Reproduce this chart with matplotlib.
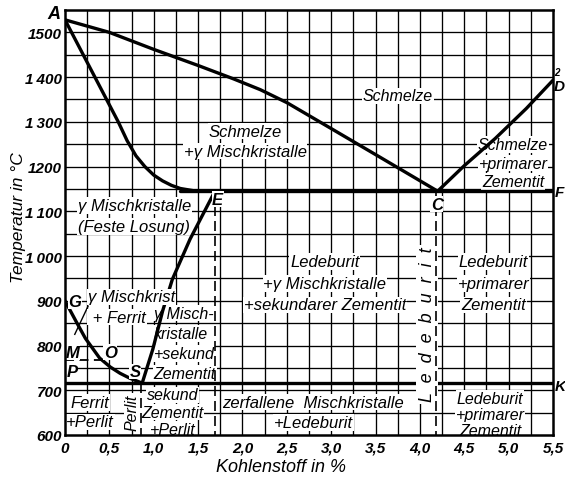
import matplotlib
matplotlib.use("Agg")
import matplotlib.pyplot as plt
import numpy as np

plt.rcParams['font.family'] = ['Liberation Sans', 'DejaVu Sans']
plt.rcParams['font.style'] = 'italic'

# ---- data (carbon %, temperature °C) ----
liquidus_AC_x = [0.0, 0.5, 1.0, 1.5, 1.9, 2.2, 2.5, 3.0, 3.55, 4.2]
liquidus_AC_t = [1528, 1500, 1462, 1426, 1396, 1372, 1343, 1285, 1221, 1145]
solidus_AE_x = [0.0, 0.2, 0.4, 0.6, 0.7, 0.8, 0.9, 1.0, 1.1, 1.2, 1.3, 1.45, 1.7]
solidus_AE_t = [1528, 1452, 1376, 1300, 1258, 1224, 1200, 1181, 1168, 1158, 1151, 1146, 1145]
liquidus_CD_x = [4.2, 4.5, 4.85, 5.2, 5.5]
liquidus_CD_t = [1145, 1202, 1263, 1330, 1393]
eutectic_x = [1.3, 5.5]
eutectic_t = [1145, 1145]
line_ES_x = [1.69, 1.41, 1.21, 1.10, 0.99, 0.87]
line_ES_t = [1145, 1038, 948, 877, 792, 716]
line_GS_x = [0.0, 0.13, 0.23, 0.39, 0.51, 0.62, 0.73, 0.87]
line_GS_t = [900, 852, 816, 772, 752, 738, 727, 716]
eutectoid_x = [0.0, 5.5]
eutectoid_t = [716, 716]
magnetic_x = [0.0, 0.48]
magnetic_t = [768, 768]
dashed_S_x = [0.86, 0.86]
dashed_S_t = [716, 600]
dashed_E_x = [1.69, 1.69]
dashed_E_t = [1145, 600]
dashed_C_x = [4.18, 4.18]
dashed_C_t = [1145, 600]

x_ticks = [0, 0.5, 1.0, 1.5, 2.0, 2.5, 3.0, 3.5, 4.0, 4.5, 5.0, 5.5]
x_ticklabels = ["0", "0,5", "1,0", "1,5", "2,0", "2,5", "3,0", "3,5", "4,0", "4,5", "5,0", "5,5"]
y_ticks = [600, 700, 800, 900, 1000, 1100, 1200, 1300, 1400, 1500]
y_ticklabels = ["600", "700", "800", "900", "1\u2009000", "1\u2009100", "1200", "1\u2009300", "1\u2009400", "1500"]

# region labels: (x, T, lines, line spacing pt, ha, cuts lines?, font size)
region_labels = [
    (3.75, 1358, ["Schmelze"], 14, 'center', False, 11.5),
    (2.03, 1257, ["Schmelze", "+\u03b3 Mischkristalle"], 14.5, 'center', False, 12),
    (5.05, 1208, ["Schmelze", "+primarer", "Zementit"], 13.5, 'center', False, 11.5),
    (0.78, 1089, ["\u03b3 Mischkristalle", "(Feste Losung)"], 15, 'center', False, 12),
    (2.93, 939, ["Ledeburit", "+\u03b3 Mischkristalle", "+sekundarer Zementit"], 15.5, 'center', False, 12),
    (4.83, 939, ["Ledeburit", "+primarer", "Zementit"], 15.5, 'center', False, 12),
    (4.79, 646, ["Ledeburit", "+primarer", "Zementit"], 11.5, 'center', False, 11.5),
    (2.8, 651, ["zerfallene  Mischkristalle", "+Ledeburit"], 14.5, 'center', False, 12),
    (1.21, 651, ["sekund", "Zementit", "+Perlit"], 12.5, 'center', False, 11.5),
    (0.28, 651, ["Ferrit", "+Perlit"], 14, 'center', False, 12),
    (0.26, 886, ["\u03b3 Mischkrist", " + Ferrit"], 14.5, 'left', True, 12),
    (1.0, 805, ["\u03b3 Misch-", "kristalle", "+sekund", "Zementit"], 14.5, 'left', False, 11.5),
]
point_labels = [
    ("A", -0.12, 1543, 'center'), ("G", 0.11, 899, 'center'), ("M", 0.09, 785, 'center'),
    ("O", 0.51, 785, 'center'), ("P", 0.08, 742, 'center'), ("S", 0.79, 742, 'center'),
    ("E", 1.72, 1127, 'center'), ("C", 4.19, 1116, 'center'),
    ("F", 5.52, 1143, 'left'), ("K", 5.515, 709, 'left'), ("D", 5.51, 1380, 'left'),
]

fig = plt.figure(figsize=(5.65, 4.81), dpi=100)
ax = fig.add_axes([65/565, 45/481, 488/565, 425/481])
ax.set_xlim(0, 5.5)
ax.set_ylim(600, 1550)

# grid
for gx in np.arange(0.25, 5.5, 0.25):
    ax.axvline(gx, color='black', lw=0.95, zorder=1)
for gy in np.arange(650, 1550, 50):
    ax.axhline(gy, color='black', lw=0.95, zorder=1)

thick = dict(color='black', lw=2.4, zorder=3, solid_capstyle='round')
ax.plot(liquidus_AC_x, liquidus_AC_t, **thick)
ax.plot(solidus_AE_x, solidus_AE_t, **thick)
ax.plot(liquidus_CD_x, liquidus_CD_t, **thick)
ax.plot(eutectic_x, eutectic_t, **thick)
ax.plot(line_ES_x, line_ES_t, **thick)
ax.plot(line_GS_x, line_GS_t, **thick)
ax.plot(eutectoid_x, eutectoid_t, **thick)
ax.plot(magnetic_x, magnetic_t, color='black', lw=1.3, ls=(0, (5, 3)), zorder=3)
for dx, dt in [(dashed_S_x, dashed_S_t), (dashed_E_x, dashed_E_t), (dashed_C_x, dashed_C_t)]:
    ax.plot(dx, dt, color='black', lw=1.2, ls=(0, (6, 3)), zorder=5)

# leader near Ferrit
ax.plot([0.11, 0.26], [825, 888], color='black', lw=1.0, zorder=3)

bbox = dict(facecolor='white', edgecolor='none', pad=0.6)
for x, t, lines, ls, ha, cuts, fs in region_labels:
    n = len(lines)
    for i, line in enumerate(lines):
        off = ((n - 1) / 2 - i) * ls
        ax.annotate(line, (x, t), xytext=(0, off), textcoords='offset points',
                    ha=ha, va='center', fontsize=fs, zorder=4 if cuts else 2.5, bbox=bbox)

# rotated labels
ax.text(4.08, 848, "L  e  d  e  b  u  r  i  t", rotation=90, ha='center', va='center',
        fontsize=13, zorder=4, bbox=dict(facecolor='white', edgecolor='none', pad=1.5))
ax.text(0.755, 651, "Perlit", rotation=90, ha='center', va='center',
        fontsize=11.5, zorder=4, bbox=bbox)

for name, x, t, ha in point_labels:
    ax.text(x, t, name, ha=ha, va='center',
            fontsize=13 if name == 'A' else (11 if name in ('F', 'K', 'D') else 12),
            fontweight='bold', zorder=6, clip_on=False,
            bbox=None if name in ('A', 'F', 'K', 'D') else dict(facecolor='white', edgecolor='none', pad=0.2))
ax.text(5.54, 1412, "2", ha='center', va='center', fontsize=7, fontweight='bold', clip_on=False)

ax.set_xticks(x_ticks)
ax.set_xticklabels(x_ticklabels)
ax.set_yticks(y_ticks)
ax.set_yticklabels(y_ticklabels)
ax.tick_params(length=0, labelsize=11)
ax.tick_params(axis='x', pad=4)
ax.tick_params(axis='y', pad=2)
for lab in ax.get_xticklabels() + ax.get_yticklabels():
    lab.set_fontweight('bold')
    lab.set_fontstyle('italic')

for sp in ax.spines.values():
    sp.set_linewidth(1.8)
    sp.set_zorder(6)

ax.set_xlabel("Kohlenstoff in %", fontsize=13)
ax.xaxis.set_label_coords(0.443, -0.054)
ax.set_ylabel("Temperatur in \u00b0C", fontsize=12.5)
ax.yaxis.set_label_coords(-0.08, 0.513)

fig.savefig("out.png", dpi=100)
